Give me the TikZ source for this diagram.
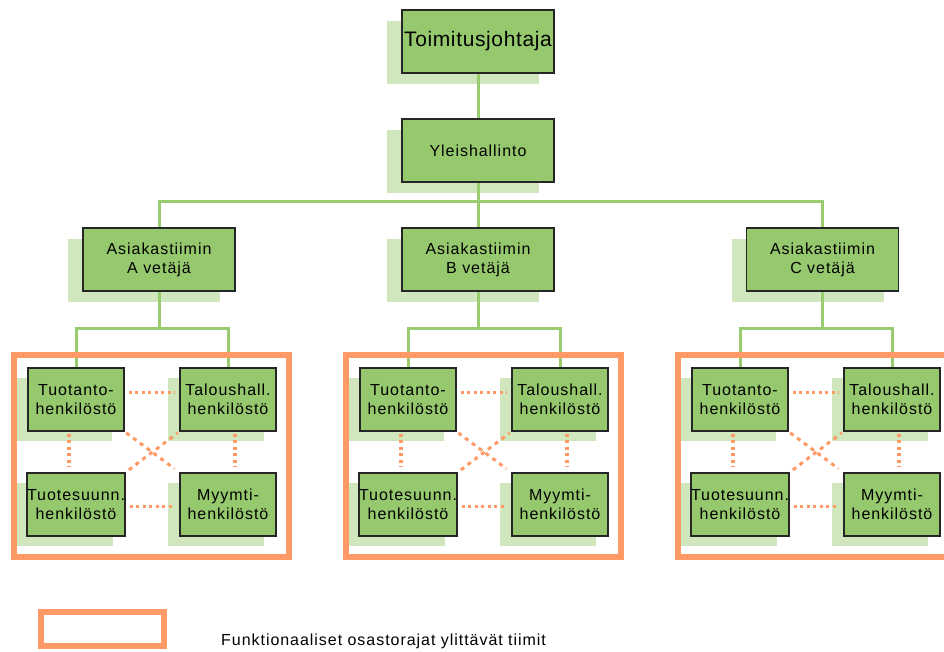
\documentclass[tikz,border=0pt]{standalone}
\usepackage{fontspec}
\setmainfont{Liberation Sans}[LetterSpace=6]
\usetikzlibrary{shadows}
\definecolor{boxgreen}{RGB}{150,201,110}
\definecolor{linegreen}{RGB}{153,204,110}
\definecolor{shadowgreen}{RGB}{208,231,190}
\definecolor{teamorange}{RGB}{255,153,102}
\tikzset{
  orgbox/.style={draw=black!85, line width=1.4pt, fill=boxgreen, inner sep=0pt,
    align=center, font=\fontsize{16}{19}\selectfont},
  leadbox/.style={orgbox, minimum width=152pt, minimum height=63pt,
    general shadow={fill=shadowgreen, shadow xshift=-15pt, shadow yshift=-11pt}},
  staffbox/.style={orgbox, minimum width=96pt, minimum height=63pt,
    general shadow={fill=shadowgreen, shadow xshift=-12pt, shadow yshift=-10pt}},
  teamframe/.style={draw=teamorange, line width=6pt, inner sep=0pt, fill=none},
  gline/.style={draw=linegreen, line width=3pt},
  oline/.style={draw=teamorange, line width=3.2pt, dash pattern=on 3pt off 3.5pt},
  xline/.style={draw=teamorange, line width=3pt, dash pattern=on 4pt off 4.5pt},
  legendtext/.style={inner sep=0pt, anchor=west, font=\fontsize{16}{19}\selectfont},
}
\begin{document}
\begin{tikzpicture}[x=1pt,y=-1pt]
\clip (0,0) rectangle (944,652);
\fill[white] (0,0) rectangle (944,652);

% top levels
\node[leadbox, font=\fontsize{21}{25}\selectfont\addfontfeatures{LetterSpace=3}] (top) at (478,41.5) {Toimitusjohtaja};
\node[leadbox] (yleis) at (478,150.5) {Yleishallinto};

% teams
\foreach \tm/\dx/\lx in {A/0/159,B/332/478,C/664/822.5}{
  \node[leadbox] (lead\tm) at (\lx,259.5) {Asiakastiimin\\\tm\ vetäjä};
  \node[staffbox] (tp\tm) at (76+\dx,399.5) {Tuotanto-\\henkilöstö};
  \node[staffbox] (ta\tm) at (228+\dx,399.5) {Taloushall.\\henkilöstö};
  \node[staffbox] (ts\tm) at (76+\dx,504.5) {Tuotesuunn.\\henkilöstö};
  \node[staffbox] (my\tm) at (228+\dx,504.5) {Myymti-\\henkilöstö};
}

% green hierarchy lines
\coordinate (bus) at (478,202);
\draw[gline] (top) -- (yleis);
\draw[gline] (yleis) -- (bus);
\draw[gline] (leadA.north) |- (bus) -| (leadC.north);
\draw[gline] (bus) -- (leadB.north);
\foreach \tm/\dx/\lx in {A/0/159,B/332/478,C/664/822.5}{
  \coordinate (br\tm) at (\lx,328);
  \draw[gline] (lead\tm) -- (br\tm);
  \draw[gline] (tp\tm.north) |- (br\tm) -| (ta\tm.north);
}

% team frames and dotted links
\foreach \tm/\dx in {A/0,B/332,C/664}{
  \node[teamframe, minimum width=275pt, minimum height=202pt] (team\tm) at (151.5+\dx,456) {};
  \draw[oline, shorten <=4pt, shorten >=5pt] ([yshift=7pt]tp\tm.east) -- ([yshift=7pt]ta\tm.west);
  \draw[oline, shorten <=4pt, shorten >=5pt] ([yshift=-2pt]ts\tm.east) -- ([yshift=-2pt]my\tm.west);
  \draw[oline, shorten <=2pt, shorten >=5pt] ([xshift=-7pt]tp\tm.south) -- ([xshift=-7pt]ts\tm.north);
  \draw[oline, shorten <=2pt, shorten >=5pt] ([xshift=7pt]ta\tm.south) -- ([xshift=7pt]my\tm.north);
  \draw[xline, shorten <=2pt, shorten >=6pt] (tp\tm.south east) -- (my\tm.north west);
  \draw[xline, shorten <=4pt, shorten >=2pt] (ts\tm.north east) -- (ta\tm.south west);
}

% legend
\node[teamframe, minimum width=123pt, minimum height=34pt] (legend) at (102.5,629) {};
\node[legendtext] (legendlabel) at (221,641) {Funktionaaliset osastorajat ylittävät tiimit};
\end{tikzpicture}
\end{document}
